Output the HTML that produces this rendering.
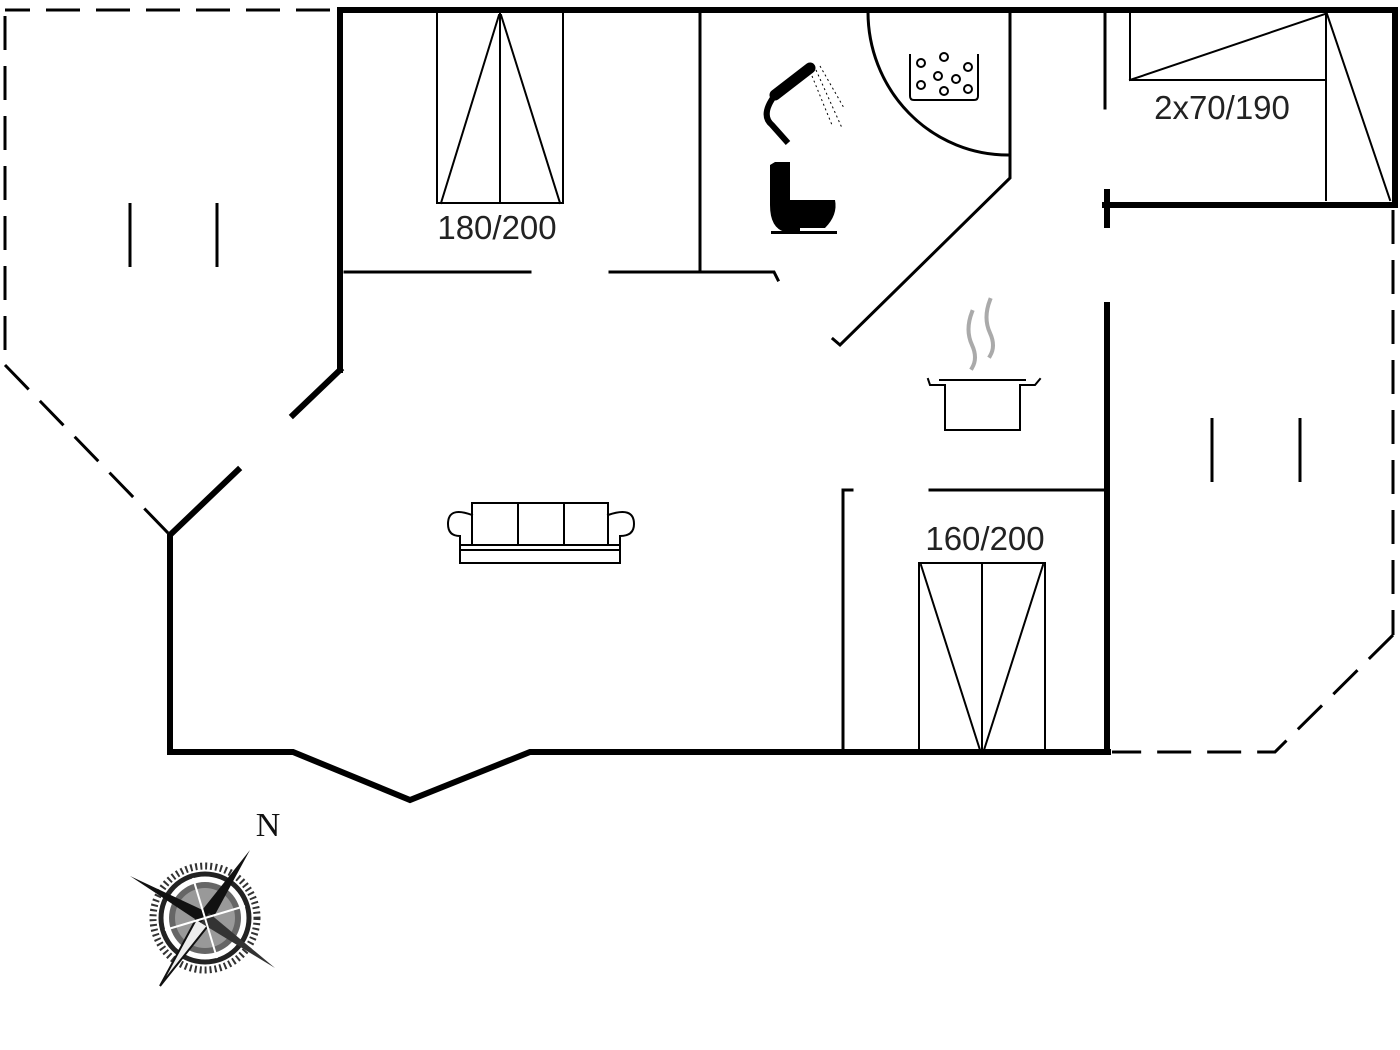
<!DOCTYPE html>
<html><head><style>html,body{margin:0;padding:0;background:#fff;}svg{display:block;}</style></head>
<body>
<svg width="1400" height="1050" viewBox="0 0 1400 1050" xmlns="http://www.w3.org/2000/svg">
<g fill="none" stroke="#000" stroke-linecap="square">
<g stroke-width="6">
<polyline points="340,370 340,10 1395,10 1395,205 1105,205"/>
<line x1="1107" y1="192" x2="1107" y2="225"/>
<line x1="1107" y1="305" x2="1107" y2="752"/>
<line x1="340" y1="370" x2="293" y2="415"/>
<polyline points="238,470 170,535 170,752 293,752 410,800 530,752 1108,752"/>
</g>
<g stroke-width="3" stroke-dasharray="34,16" stroke-linecap="butt">
<line x1="330" y1="10" x2="5" y2="10"/>
<line x1="5" y1="16" x2="5" y2="365"/>
<line x1="5" y1="365" x2="170" y2="535"/>
<line x1="1393" y1="210" x2="1393" y2="635"/>
<polyline points="1393,635 1275,752 1112,752"/>
</g>
<g stroke-width="3" stroke-linecap="butt">
<line x1="130" y1="203" x2="130" y2="267"/>
<line x1="217" y1="203" x2="217" y2="267"/>
<line x1="1212" y1="418" x2="1212" y2="482"/>
<line x1="1300" y1="418" x2="1300" y2="482"/>
</g>
<g stroke-width="3">
<line x1="345" y1="272" x2="530" y2="272"/>
<polyline points="610,272 774,272 778,280"/>
<line x1="700" y1="12" x2="700" y2="272"/>
<polyline points="1010,12 1010,178 840,345 833,339"/>
<line x1="1105" y1="12" x2="1105" y2="108"/>
<line x1="930" y1="490" x2="1105" y2="490"/>
<polyline points="852,490 843,490 843,752"/>
</g>
<path d="M868,12 A140,143 0 0 0 1008,155" stroke-width="3"/>
<g stroke-width="2">
<rect x="437" y="12" width="126" height="191"/>
<line x1="500" y1="12" x2="500" y2="203"/>
<polyline points="441,203 499,15 501,15 560,203"/>
<rect x="919" y="563" width="126" height="189"/>
<line x1="982" y1="563" x2="982" y2="752"/>
<polyline points="921,565 980,750 984,750 1043,565"/>
<polyline points="1130,12 1130,80 1325,80"/>
<line x1="1130" y1="80" x2="1325" y2="14"/>
<line x1="1326" y1="14" x2="1326" y2="200"/>
<line x1="1327" y1="14" x2="1390" y2="200"/>
</g>
<g stroke-width="2">
<path d="M910,55 L910,96 Q910,100 914,100 L974,100 Q978,100 978,96 L978,55"/>
<circle cx="921" cy="63" r="4"/><circle cx="944" cy="57" r="4"/><circle cx="968" cy="67" r="4"/>
<circle cx="938" cy="76" r="4"/><circle cx="956" cy="79" r="4"/><circle cx="921" cy="85" r="4"/>
<circle cx="944" cy="91" r="4"/><circle cx="968" cy="89" r="4"/>
</g>
<g stroke-width="2">
<rect x="472" y="503" width="136" height="42"/>
<line x1="518" y1="503" x2="518" y2="545"/><line x1="564" y1="503" x2="564" y2="545"/>
<path d="M472,515 Q448,506 448,524 Q448,536 460,536 L460,563 L620,563 L620,536 Q634,536 634,524 Q634,506 608,515"/>
<line x1="460" y1="545" x2="620" y2="545"/>
<line x1="460" y1="550" x2="620" y2="550"/>
</g>
<g stroke-width="2">
<path d="M945,385 L945,430 L1020,430 L1020,385"/>
<line x1="940" y1="380" x2="1025" y2="380"/>
<path d="M945,385 L930,385 L928,379 M1020,385 L1035,385 L1040,379"/>
<path d="M972,312 Q965,330 972,345 Q978,358 972,368" stroke="#aaa" stroke-width="4"/>
<path d="M990,300 Q983,318 990,333 Q996,346 990,356" stroke="#aaa" stroke-width="4"/>
</g>
</g>
<path d="M775,95 L810,68" stroke="#000" stroke-width="11" stroke-linecap="round" fill="none"/>
<path d="M775,95 Q760,115 772,125 L788,143" stroke="#000" stroke-width="6" fill="none"/>
<g stroke="#000" stroke-width="1" stroke-dasharray="2,3"><line x1="816" y1="70" x2="842" y2="128"/><line x1="820" y1="66" x2="844" y2="108"/><line x1="812" y1="76" x2="832" y2="125"/></g>
<path d="M775,162 L790,162 L790,200 L835,200 Q838,215 825,228 L800,228 L800,232 L785,232 Q770,228 770,205 L770,165 Z" fill="#000"/>
<rect x="771" y="231" width="66" height="3" fill="#000"/>
<g font-family="Liberation Sans, sans-serif" font-size="33" fill="#222" text-anchor="middle">
<text x="497" y="239">180/200</text>
<text x="985" y="550">160/200</text>
<text x="1222" y="119">2x70/190</text>
</g>
<g transform="translate(205,918)">
<circle r="52" fill="none" stroke="#333" stroke-width="7" stroke-dasharray="2,3"/>
<circle r="44" fill="none" stroke="#222" stroke-width="5"/>
<circle r="36" fill="#666"/>
<circle r="30" fill="#999"/>
<polygon points="45,-68 6,4 -6,-4" fill="#111"/>
<polygon points="-45,68 6,4 -6,-4" fill="#eee" stroke="#111" stroke-width="2"/>
<polygon points="-75,-42 4,-5 -4,5" fill="#111"/>
<polygon points="70,50 4,-5 -4,5" fill="#333"/>
<g stroke="#fff" stroke-width="2"><line x1="0" y1="0" x2="-12" y2="-40"/><line x1="0" y1="0" x2="40" y2="-12"/><line x1="0" y1="0" x2="12" y2="40"/><line x1="0" y1="0" x2="-40" y2="12"/></g>
</g>
<text x="268" y="836" font-family="Liberation Serif, serif" font-size="34" fill="#111" text-anchor="middle">N</text>
</svg>
</body></html>
